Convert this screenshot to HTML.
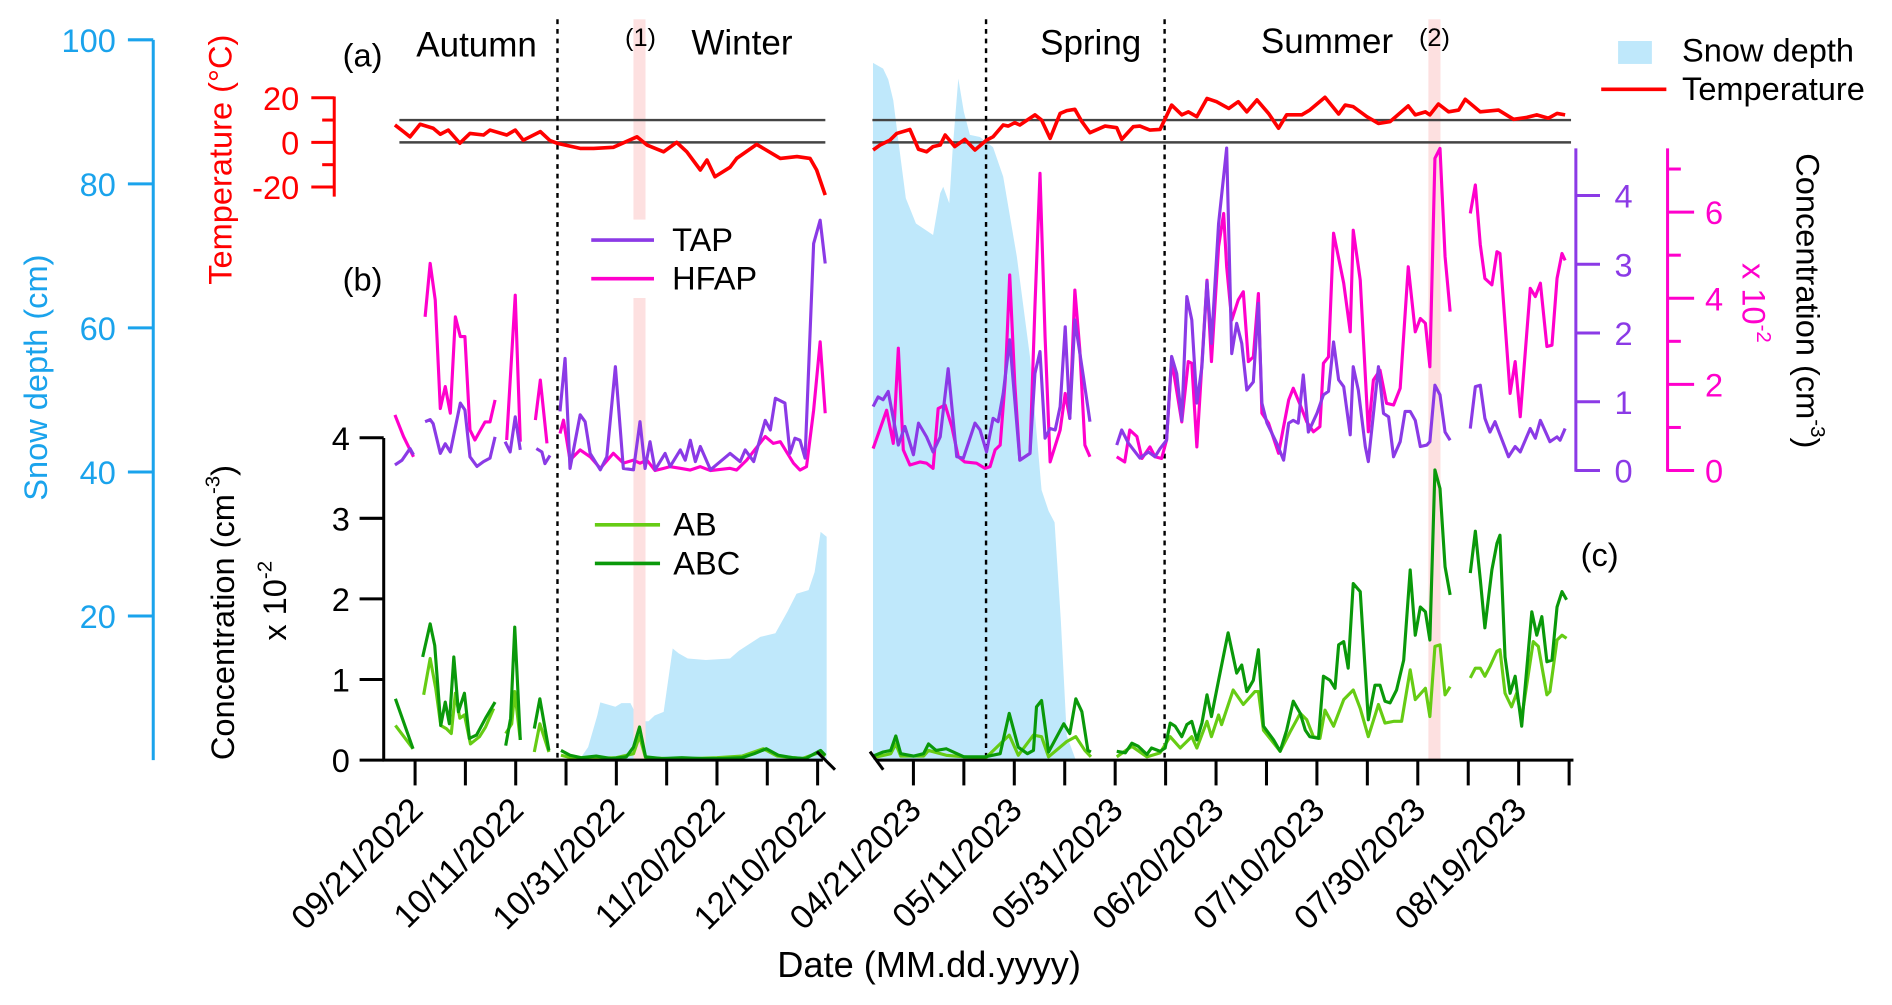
<!DOCTYPE html>
<html><head><meta charset="utf-8"><title>Aerosol time series</title>
<style>
html,body{margin:0;padding:0;background:#fff;}
svg{display:block;font-family:"Liberation Sans",Arial,sans-serif;}
</style></head>
<body>
<svg id="chart" width="1892" height="1005" viewBox="0 0 1568 833" preserveAspectRatio="none" xmlns="http://www.w3.org/2000/svg">
<g id="snowLayer"></g>
<g id="bands"></g>
<g id="grid"></g>
<g id="series"></g>
<g id="axes"></g>
<g id="labels">
  <text x="284" y="55" font-size="27">(a)</text>
  <text x="284" y="241" font-size="27">(b)</text>
  <text x="1310" y="469" font-size="27">(c)</text>
  <text x="345" y="47" font-size="29">Autumn</text>
  <text x="573" y="45" font-size="29">Winter</text>
  <text x="862" y="45" font-size="29">Spring</text>
  <text x="1045" y="44" font-size="29">Summer</text>
  <text x="518" y="38" font-size="21">(1)</text>
  <text x="1176" y="38" font-size="21">(2)</text>
  <rect x="1341" y="34" width="28" height="19" fill="#bfe8fb"/>
  <text x="1394" y="51" font-size="27">Snow depth</text>
  <line x1="1327" y1="74" x2="1381" y2="74" stroke="#ff0000" stroke-width="3"/>
  <text x="1394" y="83" font-size="27">Temperature</text>
  <line x1="490" y1="199" x2="542" y2="199" stroke="#8b3ae6" stroke-width="3"/>
  <text x="557" y="208" font-size="27">TAP</text>
  <line x1="490" y1="231" x2="542" y2="231" stroke="#ff00cc" stroke-width="3"/>
  <text x="557" y="240" font-size="27">HFAP</text>
  <line x1="493" y1="435" x2="547" y2="435" stroke="#66cc14" stroke-width="3"/>
  <text x="558" y="444" font-size="27">AB</text>
  <line x1="493" y1="467" x2="547" y2="467" stroke="#0a990a" stroke-width="3"/>
  <text x="558" y="476" font-size="27">ABC</text>
  <text x="770" y="810" font-size="30" text-anchor="middle">Date (MM.dd.yyyy)</text>
  <text transform="translate(39,415) rotate(-90)" font-size="27" fill="#1aa3ec">Snow depth (cm)</text>
  <text transform="translate(192,236) rotate(-90)" font-size="27" fill="#ff0000">Temperature (°C)</text>
  <text transform="translate(194,630) rotate(-90)" font-size="27">Concentration (cm<tspan font-size="17" dy="-12">-3</tspan><tspan dy="12">)</tspan></text>
  <text transform="translate(237,531) rotate(-90)" font-size="27">x 10<tspan font-size="17" dy="-12">-2</tspan></text>
  <text transform="translate(1489,127) rotate(90)" font-size="27">Concentration (cm<tspan font-size="17" dy="-12">-3</tspan><tspan dy="12">)</tspan></text>
  <text transform="translate(1444,218) rotate(90)" font-size="27" fill="#ff00cc">x 10<tspan font-size="17" dy="-12">-2</tspan></text>
</g>
</svg>
<script>
// ---- data (days since 09/21/2022 for segment 1, since 04/21/2023 for segment 2) ----
const tempDays1 = [-4,-2.3,-1,1,3.6,5,6.6,8.9,10.9,13.6,14.9,18.2,19.9,21.5,24.9,26.8,28.2,32.8,35.5,39.4,44.1,46.1,49.4,52,54,56.7,58,59.6,62.6,63.9,67.9,72.6,75.9,78.5,79.8,81.5];
const tempVals1 = [7.8,4.8,2.5,8.1,6.3,3.6,5.5,-0.4,4,3.3,5.5,3.3,5.5,1,4.8,0.8,-0.4,-2.7,-2.7,-2.2,2.5,-1.2,-4.2,0,-4.2,-12.4,-7.9,-15.4,-11.2,-7.2,-0.9,-7.2,-6.4,-7.2,-12.4,-23.6];
const tempDays2 = [-8,-6.6,-4.65,-3.3,-0.7,1,2.6,3.9,5.3,6.3,8.2,10.2,12.2,14.5,15.8,17.8,18.8,20.1,21.1,24.1,25.4,27.1,29.1,30.4,32,33.4,35,38,40.3,41.3,43.6,44.9,46.9,48.9,51.2,53.2,54.5,56.2,58.2,60.1,62.5,64.4,66.1,68.1,70.4,72.4,74,77,78.6,81.6,84.3,85.6,87.2,89.9,92.2,94.5,98.1,99.5,101.5,102.4,104.1,106.1,108.1,109.4,112.4,116,119,121.6,123.6,125.9,127.6,129.2];
const tempVals2 = [-3.4,-1.2,1.05,4,5.8,-3.1,-4.2,-1.9,-1.2,3.3,-1.9,1.35,-3.4,1.05,2.5,7.8,7.3,8.8,7.8,12.3,10,1.8,13,14.2,14.8,9.3,4.3,7.3,6.6,1.35,7,7.3,5.5,5.8,16.7,12.3,13.7,11.5,19.7,18.2,15.2,18.2,13.7,19,13,6.3,12.3,12.3,14.5,20.2,12.7,16.7,16,11.5,8.5,9.3,16.3,12.3,13.7,12.3,17.2,13.7,14.5,19.3,13.7,14.5,10.3,11.2,12.3,10.8,13,12.3];

const tapDays1 = [-4,-2.6,-1,-0.3,null,2,3,3.6,5,6,7,9,9.9,10.9,12.3,13.6,14.9,15.9,null,17.9,18.9,19.9,20.9,null,24.1,25.2,25.8,26.8,null,28.8,29.8,30.8,32.8,33.8,34.8,36.8,38.1,39.8,41.4,43.4,44.7,45.7,46.7,47.7,49.7,50.7,52.7,53.7,54.7,55.7,56.7,58.7,62.6,64.6,65.6,67.3,69.6,70.6,71.6,73.5,74.5,75.5,76.5,77.5,79.2,80.5,81.5];
const tapVals1 = [0.08,0.15,0.32,0.23,null,0.71,0.74,0.68,0.25,0.39,0.27,0.98,0.88,0.2,0.06,0.13,0.18,0.49,null,0.42,0.27,0.78,0.3,null,0.32,0.27,0.1,0.22,null,0.86,1.63,0.03,0.81,0.71,0.25,0.01,0.2,1.51,0.03,0.01,0.71,0.03,0.42,0.01,0.25,0.06,0.3,0.15,0.44,0.13,0.35,0.01,0.25,0.13,0.3,0.13,0.73,0.59,1.05,0.98,0.25,0.47,0.44,0.18,3.3,3.64,3.01];
const tapDays2 = [-8,-7,-6,-5,-3,-1.7,0,1,2.6,3.9,5.3,6.9,8.6,9.9,12.2,13.2,14.5,15.8,16.8,17.8,19.1,21.1,23.1,24.1,25.1,26.1,27.1,28.1,29.1,30.1,31,32,33.7,35,null,40.3,41.3,42.6,44.9,46.6,47.9,48.9,50.2,51.2,52.2,53.2,54.2,55.2,56.2,57.2,58.2,59.1,60.5,62.1,63.1,64.1,65.1,66.1,67.4,68.4,69.1,70.1,72,73.4,74.4,75.3,76.3,77.3,78.3,80,81.3,82.3,83.3,84.3,85.3,86.6,87.2,88.2,89.6,90.2,92.2,93.2,94.2,95.2,96.5,97.5,98.5,99.5,100.5,101.8,102.4,103.4,104.4,105.4,106.4,null,110.4,111.4,112.4,113.3,114.3,115.3,118,119.3,120.3,122.3,123.3,124.3,126.2,127.6,128.2,129.2];
const tapVals2 = [0.93,1.07,1.03,1.15,0.37,0.64,0.23,0.69,0.49,0.27,0.49,1.48,0.2,0.18,0.69,0.59,0.27,0.76,0.71,1.12,1.9,0.15,0.25,1.41,1.73,0.47,0.61,0.59,0.93,2.09,0.76,2.19,1.36,0.71,null,0.37,0.59,0.4,0.18,0.27,0.2,0.32,0.44,1.66,1.41,0.73,2.53,2.19,0.98,1.51,2.75,1.85,3.59,4.69,1.7,2.14,1.85,1.17,1.29,2.43,0.98,0.69,0.4,0.15,0.69,0.73,0.69,1.39,0.56,0.83,1.1,1.15,1.87,1.32,1.22,0.52,1.51,1.17,0.35,0.13,1.51,0.83,0.78,0.2,0.42,0.86,0.86,0.73,0.35,0.37,0.42,1.24,1.1,0.56,0.44,null,0.61,1.22,1.24,0.76,0.56,0.71,0.2,0.35,0.27,0.61,0.47,0.73,0.42,0.49,0.44,0.61];

const hfapDays1 = [-4,-2.3,-0.3,null,2,3,4,5,6,7,8,9,9.9,10.9,11.9,13.9,14.9,15.9,null,18.2,19.9,20.9,null,23.9,24.9,26.2,null,28.8,29.5,30.8,32.8,34.8,36.8,39.4,41.4,43.4,44.7,46.1,47.7,49.4,50.7,52.7,54.7,56.7,58.7,62.6,63.9,65.9,69.6,71.2,72.6,75.2,76.5,77.8,79.2,80.5,81.5];
const hfapVals1 = [1.29,0.79,0.32,null,3.57,4.81,3.96,1.44,1.95,1.33,3.57,3.11,3.11,0.94,0.71,1.13,1.13,1.64,null,0.71,4.07,0.67,null,1.17,2.1,0.63,null,0.86,1.17,0.24,0.48,0.32,0.05,0.4,0.17,0.24,0.17,0.24,0,0.05,0.09,0.05,0.01,0.09,0,0.05,0.01,0.24,0.79,0.63,0.67,0.17,0.01,0.09,1.4,2.99,1.33];
const hfapDays2 = [-8,-5.3,-4,-3,-2,-0.7,1.3,2.6,3.9,4.9,6.3,7.6,8.9,10.2,12.5,14.2,15.2,16.2,17.2,18.2,19.1,20.1,21.1,23.1,24.1,25.1,26.1,27.1,29.1,30.1,31,32,33,34,35,null,40.3,41.9,42.9,44.3,45.3,46.9,47.9,49.2,50.2,51.2,53.2,54.5,55.2,56.2,58.2,59.1,60.5,61.5,62.1,63.1,64.4,65.4,66.4,67.4,68.4,69.1,70.4,72.4,74.4,75.3,76.7,78,79.3,80.6,81.3,82.3,83.3,85.3,86.6,87.2,88.6,90.2,91.2,92.5,93.8,95.2,96.5,98.1,99.5,100.5,101.5,102.4,103.4,104.4,105.4,106.4,null,110.4,111.4,112.4,113.3,114.7,115.7,116.3,117.3,118.3,119.3,120.3,121.3,122.3,123.3,124.3,125.6,126.6,127.6,128.6,129.2];
const hfapVals2 = [0.51,1.4,0.63,2.84,0.48,0.13,0.2,0.17,0.05,1.44,1.52,1.02,0.32,0.2,0.17,0.05,0.09,0.48,0.59,2.1,4.54,2.02,0.24,0.4,3.8,6.9,3.11,0.2,0.94,1.79,1.21,4.19,2.8,0.59,0.32,null,0.32,0.2,0.94,0.79,0.28,0.55,0.32,0.28,0.71,2.57,1.13,2.53,2.49,0.55,4.42,2.53,5.2,5.97,4.73,3.49,3.96,4.15,2.53,2.64,4.11,1.33,1.1,0.4,1.64,1.91,1.52,1.13,0.9,1.02,2.49,2.64,5.51,4.35,3.22,5.58,4.42,0.9,2.1,2.33,1.56,1.52,1.91,4.73,3.22,3.53,3.42,2.41,7.25,7.48,4.97,3.69,null,5.97,6.63,5.24,4.46,4.31,5.08,5.04,3.42,1.79,2.53,1.25,2.72,4.23,4.04,4.35,2.88,2.91,4.46,5.04,4.88];

const abcDays1 = [-3.9,-0.4,null,1.5,3,3.9,5.1,6,6.8,7.7,8.6,9.8,10.8,12.2,14,15.9,null,18,19,19.8,20.9,null,23.7,24.8,26.6,null,29,30.8,33,36,39,42,43.4,44.6,45.8,49,53,57,61,65,67.4,69.8,72.2,75,77.6,80.6,81.5];
const abcVals1 = [0.76,0.14,null,1.28,1.69,1.42,0.43,0.72,0.45,1.28,0.6,0.83,0.27,0.31,0.52,0.72,null,0.18,0.52,1.65,0.25,null,0.39,0.76,0.12,null,0.12,0.06,0.03,0.05,0.02,0.04,0.16,0.41,0.04,0.02,0.03,0.02,0.02,0.03,0.08,0.14,0.06,0.03,0.02,0.12,0.06];
const abcDays2 = [-8,-6,-4.5,-3.5,-2.5,0,2,3,4.5,6.5,10,14.2,17.2,19,20.8,22.6,23.8,24.4,25.4,26.8,29.8,31,32.2,33.4,34.6,35.2,null,40.3,42,43.3,44.6,46.3,47.2,48.9,49.9,50.9,51.9,53.2,54.2,55.2,56.2,57.2,58.2,59.1,60.5,62.4,64.1,65.1,66.1,67.4,68.4,69.4,71.4,72.7,74,75.3,76.7,77.7,78.6,80.3,81.3,82.6,83.6,84.3,85.3,86.2,87.2,88.6,90.2,91.5,92.5,93.5,94.5,95.8,97.2,98.5,99.5,100.5,101.5,102.4,103.4,104.4,105.4,106.4,null,110.4,111.4,112.4,113.3,114.7,115.7,116.3,117.3,118.3,119.3,120.6,122.6,123.6,124.6,125.6,126.6,127.6,128.6,129.5];
const abcVals2 = [0.05,0.1,0.12,0.3,0.08,0.05,0.08,0.2,0.12,0.14,0.04,0.04,0.08,0.58,0.16,0.08,0.12,0.66,0.74,0.1,0.45,0.33,0.76,0.6,0.12,0.1,null,0.11,0.09,0.21,0.17,0.07,0.15,0.11,0.15,0.46,0.42,0.29,0.44,0.48,0.25,0.46,0.81,0.54,0.99,1.58,1.08,1.18,0.85,0.99,1.37,0.42,0.25,0.11,0.37,0.73,0.58,0.37,0.29,0.27,1.04,0.99,0.89,1.43,1.47,1.14,2.19,2.09,0.5,0.93,0.93,0.73,0.71,0.87,1.24,2.36,1.55,1.9,1.84,1.49,3.6,3.37,2.4,2.05,null,2.32,2.84,2.24,1.64,2.36,2.69,2.79,1.28,0.83,1.04,0.42,1.84,1.55,1.78,1.22,1.24,1.9,2.09,1.99];

const abDays1 = [-3.9,-0.4,null,1.7,3,4.1,5.1,6.2,7.2,8,8.9,9.8,11,12.8,14,15.6,null,18,19.2,19.8,20.9,null,23.7,24.8,26.6,null,29,31,35,40,43.4,44.6,45.8,50,55,60,65,69.2,72,77,80.6,81.5];
const abVals1 = [0.43,0.14,null,0.81,1.26,0.89,0.43,0.39,0.33,0.83,0.52,0.56,0.2,0.29,0.41,0.64,null,0.33,0.45,0.85,0.25,null,0.1,0.45,0.1,null,0.06,0.03,0.02,0.03,0.08,0.3,0.03,0.02,0.02,0.03,0.05,0.14,0.05,0.02,0.1,0.05];
const abDays2 = [-8,-4.5,-3.5,-2.5,2,3,6.5,14.2,19,20.8,23.8,25.4,26.8,30.4,32.2,34,35.2,null,40.3,43.3,46.3,48.9,50.9,52.9,55.2,56.2,58.2,59.1,60.5,61.1,63.4,65.4,67.7,68.4,69.4,72.7,74.7,76.7,78,79.3,80.6,81.6,83.3,85.3,87.2,88.6,90.2,92.2,93.5,95.2,96.8,98.5,99.5,101.5,102.4,103.4,104.4,105.4,106.4,null,110.4,111.4,112.4,113.3,114.3,115.7,116.3,117.3,118.6,119.6,120.6,122.9,123.9,125.6,126.2,127.6,128.6,129.5];
const abVals2 = [0.03,0.08,0.2,0.05,0.05,0.12,0.06,0.02,0.31,0.06,0.31,0.29,0.04,0.23,0.29,0.12,0.04,null,0.04,0.17,0.04,0.09,0.29,0.15,0.29,0.15,0.48,0.29,0.56,0.44,0.87,0.69,0.85,0.85,0.37,0.11,0.35,0.58,0.5,0.29,0.27,0.62,0.42,0.75,0.87,0.64,0.29,0.69,0.46,0.48,0.48,1.12,0.75,0.89,0.54,1.41,1.43,0.81,0.91,null,1.02,1.14,1.14,1.04,1.16,1.35,1.37,0.83,0.66,0.83,0.52,1.47,1.41,0.81,0.85,1.49,1.55,1.51];

const snowDays1 = [32.6,34.4,36.2,36.8,39.8,41,42.8,44.6,46.4,47.6,49.4,51.2,52.4,54.2,57.8,62.6,64.4,68.6,71.6,74,75.8,78.2,79.4,80.6,81.8];
const snowVals1 = [0,1.8,6.2,8,7.4,7.9,7.9,5.4,5.4,6.2,6.7,15.5,14.8,14.1,13.9,14.1,15.2,17.1,17.6,20.6,23.1,23.6,26.1,31.7,31];
const snowDays2 = [-8,-6,-5,-4,-3,-1.5,0.5,3.9,5.3,5.9,7.1,7.8,8.9,10,11.2,13.2,15.8,17.8,20.5,23.1,25.4,26.8,28,29.2,30.4,32.2];
const snowVals2 = [96.8,96,94.5,91.6,86,78,74.5,72.9,78.7,79.6,77.3,85,94.6,90,86.8,86.5,85.1,81,69.9,56,37.5,34.6,33,19.6,3.4,0];

const dateLabels1 = ["09/21/2022","10/11/2022","10/31/2022","11/20/2022","12/10/2022"];
const dateLabels2 = ["04/21/2023","05/11/2023","05/31/2023","06/20/2023","07/10/2023","07/30/2023","08/19/2023"];
const snowTicks = [20,40,60,80,100];
const tempTicks = [20,10,0,-10,-20];
const concTicks = [0,1,2,3,4];
const tapTicks = [0,1,2,3,4];
const hfapTicks = [0,1,2,3,4,5,6,7];
const seasonBreaks1 = [28.3];
const seasonBreaks2 = [14.4,49.8];
const eventDays1 = [44.6];
const eventDays2 = [103.3];

// ---- scales ----
const x1 = d => 344 + d*4.17;
const x2 = d => 757 + d*4.18;
const yTemp = v => 118 - v*1.85;
const ySnow = v => 630 - v*5.97;
const yTap = v => 390 - v*57;
const yHfap = v => 390 - v*35.7;
const yConc = v => 630 - v*66.8;

const NS = "http://www.w3.org/2000/svg";
function mk(tag, attrs, parent){
  const e = document.createElementNS(NS, tag);
  for (const k in attrs) e.setAttribute(k, attrs[k]);
  parent.appendChild(e);
  return e;
}
function pathD(days, vals, xf, yf){
  let d = "", pen = false;
  const n = Math.min(days.length, vals.length);
  for (let i=0;i<n;i++){
    if (days[i]===null || vals[i]===null){ pen=false; continue; }
    d += (pen ? "L" : "M") + xf(days[i]).toFixed(1) + "," + yf(vals[i]).toFixed(1);
    pen = true;
  }
  return d;
}
const snowG = document.getElementById("snowLayer");
const bandsG = document.getElementById("bands");
const gridG = document.getElementById("grid");
const seriesG = document.getElementById("series");
const axesG = document.getElementById("axes");

function snowArea(days, vals, xf, name, leftEdge){
  let d = "M" + (leftEdge!==undefined ? leftEdge : xf(days[0])).toFixed(1) + ",630";
  for (let i=0;i<days.length;i++){
    const xx = (i===0 && leftEdge!==undefined) ? leftEdge : xf(days[i]);
    d += "L" + xx.toFixed(1) + "," + ySnow(vals[i]).toFixed(1);
  }
  d += "L" + xf(days[days.length-1]).toFixed(1) + ",630Z";
  const p = mk("path", {d:d, fill:"#bfe8fb"}, snowG);
  
  
}
snowArea(snowDays1, snowVals1, x1, "snow-area-2022");
snowArea(snowDays2, snowVals2, x2, "snow-area-2023", 723.5);

eventDays1.forEach(d => {
  const r1 = mk("rect", {x:x1(d)-5, y:16, width:10, height:166, fill:"#fde0e0"}, bandsG);
  
  
  const r2 = mk("rect", {x:x1(d)-5, y:247, width:10, height:383, fill:"#fde0e0"}, bandsG);
  
  
});
eventDays2.forEach(d => {
  const r = mk("rect", {x:x2(d)-5, y:16, width:10, height:614, fill:"#fde0e0"}, bandsG);
  
  
});

[10,0].forEach(v => {
  const a = mk("line", {x1:331, x2:684, y1:yTemp(v), y2:yTemp(v), stroke:"#444", "stroke-width":2}, gridG);
  
  
  const b = mk("line", {x1:723, x2:1302, y1:yTemp(v), y2:yTemp(v), stroke:"#444", "stroke-width":2}, gridG);
  
  
});
seasonBreaks1.forEach(d => {
  const l = mk("line", {x1:x1(d), x2:x1(d), y1:16, y2:630, stroke:"#000", "stroke-width":2, "stroke-dasharray":"4,4"}, gridG);
  
  
});
seasonBreaks2.forEach(d => {
  const l = mk("line", {x1:x2(d), x2:x2(d), y1:16, y2:630, stroke:"#000", "stroke-width":2, "stroke-dasharray":"4,4"}, gridG);
  
  
});

function line(days, vals, xf, yf, color, w, name){
  const p = mk("path", {d:pathD(days, vals, xf, yf), fill:"none", stroke:color, "stroke-width":w, "stroke-linejoin":"round"}, seriesG);
  
  
}
line(abDays1, abVals1, x1, yConc, "#66cc14", 2.6, "ab-line-2022");
line(abDays2, abVals2, x2, yConc, "#66cc14", 2.6, "ab-line-2023");
line(abcDays1, abcVals1, x1, yConc, "#0a990a", 2.6, "abc-line-2022");
line(abcDays2, abcVals2, x2, yConc, "#0a990a", 2.6, "abc-line-2023");
line(hfapDays1, hfapVals1, x1, yHfap, "#ff00cc", 2.6, "hfap-line-2022");
line(hfapDays2, hfapVals2, x2, yHfap, "#ff00cc", 2.6, "hfap-line-2023");
line(tapDays1, tapVals1, x1, yTap, "#8b3ae6", 2.6, "tap-line-2022");
line(tapDays2, tapVals2, x2, yTap, "#8b3ae6", 2.6, "tap-line-2023");
line(tempDays1, tempVals1, x1, yTemp, "#ff0000", 3, "temperature-line-2022");
line(tempDays2, tempVals2, x2, yTemp, "#ff0000", 3, "temperature-line-2023");

function ln(a, name, color, w){
  const l = mk("line", {x1:a[0], y1:a[1], x2:a[2], y2:a[3], stroke:color, "stroke-width":w||2}, axesG);
  
  
  return l;
}
function tx(x, y, s, name, color, anchor, size){
  const t = mk("text", {x:x, y:y, fill:color, "text-anchor":anchor, "font-size":size||27}, axesG);
  t.textContent = s;
  
  
  return t;
}
ln([127,33,127,630], "snow-axis-line", "#1aa3ec", 2.5);
snowTicks.forEach(v => {
  ln([106,ySnow(v),127,ySnow(v)], "snow-axis-tick", "#1aa3ec", 2.5);
  tx(96, ySnow(v)+10, String(v), "snow-tick-label", "#1aa3ec", "end");
});
ln([277,80,277,163], "temp-axis-line", "#ff0000", 2.5);
tempTicks.forEach(v => {
  const major = v % 20 === 0;
  ln([major?258:267, yTemp(v), 277, yTemp(v)], "temp-axis-tick", "#ff0000", 2.5);
  if (major) tx(248, yTemp(v)+10, String(v), "temp-tick-label", "#ff0000", "end");
});
ln([318,363,318,631], "conc-axis-line", "#000", 2.5);
concTicks.forEach(v => {
  ln([298,yConc(v),318,yConc(v)], "conc-axis-tick", "#000", 2.5);
  tx(290, yConc(v)+10, String(v), "conc-tick-label", "#000", "end");
});
ln([1306,123,1306,391], "tap-axis-line", "#8b3ae6", 2.5);
tapTicks.forEach(v => {
  ln([1306,yTap(v),1326,yTap(v)], "tap-axis-tick", "#8b3ae6", 2.5);
  tx(1338, yTap(v)+10, String(v), "tap-tick-label", "#8b3ae6", "start");
});
ln([1382,123,1382,391], "hfap-axis-line", "#ff00cc", 2.5);
hfapTicks.forEach(v => {
  const major = v % 2 === 0;
  ln([1382,yHfap(v),major?1404:1393,yHfap(v)], "hfap-axis-tick", "#ff00cc", 2.5);
  if (major) tx(1413, yHfap(v)+10, String(v), "hfap-tick-label", "#ff00cc", "start");
});
ln([317,630,682,630], "x-axis-line-2022", "#000", 2.5);
ln([726,630,1304,630], "x-axis-line-2023", "#000", 2.5);
ln([677,623,692,638], "axis-break-mark", "#000", 2.5);
ln([721,623,732,638], "axis-break-mark", "#000", 2.5);
for (let d=0; d<=80; d+=10){
  ln([x1(d),630,x1(d),651], "x-axis-tick", "#000", 2.5);
}
for (let d=0; d<=130; d+=10){
  ln([x2(d),630,x2(d),651], "x-axis-tick", "#000", 2.5);
}
function dateLabel(x, s){
  const t = mk("text", {transform:"translate("+(x+8)+",673) rotate(-45)", "text-anchor":"end", "font-size":28, fill:"#000"}, axesG);
  t.textContent = s;
  
  
}
dateLabels1.forEach((s,i) => dateLabel(x1(i*20), s));
dateLabels2.forEach((s,i) => dateLabel(x2(i*20), s));
</script>
</body></html>
